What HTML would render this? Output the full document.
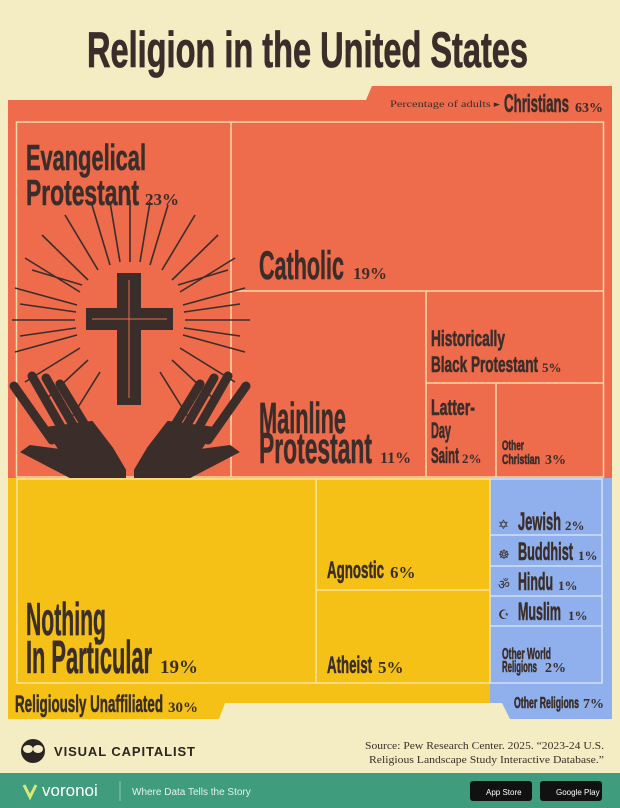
<!DOCTYPE html>
<html><head><meta charset="utf-8"><style>
html,body{margin:0;padding:0;background:#f4ecc2;}
svg{display:block}
</style></head><body>
<svg width="620" height="808" viewBox="0 0 620 808" xmlns="http://www.w3.org/2000/svg">
<rect width="620" height="808" fill="#f4ecc2"/>
<g font-family="Liberation Sans, sans-serif" font-weight="bold" fill="#3b2e2a" stroke="#3b2e2a" stroke-width="0.8">
<text x="87" y="67" font-size="50" textLength="441" lengthAdjust="spacingAndGlyphs">Religion in the United States</text>
</g>
<polygon points="8,100 366,100 372,86 612,86 612,478 8,478" fill="#ee6b4c"/>
<polygon points="8,478 490,478 490,703 225,703 219,719 8,719" fill="#f6c117"/>
<polygon points="490,478 612,478 612,719 510,719 502,703 490,703" fill="#8fb0ec"/>
<g fill="none" stroke="#f6d9a8" stroke-width="1.5">
<rect x="16.5" y="122" width="587" height="355"/>
<line x1="231" y1="122" x2="231" y2="477"/>
<line x1="231" y1="291" x2="603" y2="291"/>
<line x1="426" y1="291" x2="426" y2="477"/>
<line x1="426" y1="383" x2="603" y2="383"/>
<line x1="496" y1="383" x2="496" y2="477"/>
</g>
<g fill="none" stroke="#fbe3a0" stroke-width="1.5">
<rect x="17" y="479" width="473" height="204"/>
<line x1="316" y1="479" x2="316" y2="683"/>
<line x1="316" y1="590" x2="490" y2="590"/>
</g>
<g fill="none" stroke="#d3e0fa" stroke-width="1.5">
<polyline points="490,479 602,479 602,683 490,683"/>
<line x1="490" y1="535" x2="602" y2="535"/>
<line x1="490" y1="566" x2="602" y2="566"/>
<line x1="490" y1="596" x2="602" y2="596"/>
<line x1="490" y1="626" x2="602" y2="626"/>
</g>
<g stroke="#3b2e2a" stroke-width="1.6">
<line x1="185" y1="320" x2="250" y2="320"/><line x1="75" y1="320" x2="12" y2="320"/>
<line x1="183" y1="305" x2="245" y2="288"/><line x1="77" y1="305" x2="15" y2="288"/>
<line x1="180" y1="292" x2="235" y2="258"/><line x1="80" y1="292" x2="25" y2="258"/>
<line x1="172" y1="280" x2="218" y2="235"/><line x1="88" y1="280" x2="42" y2="235"/>
<line x1="162" y1="270" x2="195" y2="215"/><line x1="98" y1="270" x2="65" y2="215"/>
<line x1="150" y1="265" x2="168" y2="205"/><line x1="110" y1="265" x2="92" y2="205"/>
<line x1="130" y1="262" x2="130" y2="200"/>
<line x1="183" y1="335" x2="245" y2="352"/><line x1="77" y1="335" x2="15" y2="352"/>
<line x1="180" y1="348" x2="235" y2="382"/><line x1="80" y1="348" x2="25" y2="382"/>
<line x1="172" y1="360" x2="215" y2="400"/><line x1="88" y1="360" x2="45" y2="400"/>
<line x1="160" y1="372" x2="190" y2="420"/><line x1="100" y1="372" x2="70" y2="420"/>
<line x1="184" y1="312" x2="240" y2="304"/><line x1="76" y1="312" x2="20" y2="304"/>
<line x1="184" y1="328" x2="240" y2="336"/><line x1="76" y1="328" x2="20" y2="336"/>
<line x1="178" y1="285" x2="228" y2="270"/><line x1="82" y1="285" x2="32" y2="270"/>
<line x1="140" y1="262" x2="150" y2="202"/><line x1="120" y1="262" x2="110" y2="202"/>
</g>
<rect x="117" y="273" width="24" height="132" fill="#3b2e2a"/>
<rect x="86" y="308" width="87" height="22" fill="#3b2e2a"/>
<line x1="129" y1="280" x2="129" y2="398" stroke="#ee6b4c" stroke-width="1"/>
<line x1="92" y1="319" x2="167" y2="319" stroke="#ee6b4c" stroke-width="1"/>
<g fill="#3b2e2a" stroke="#3b2e2a" stroke-linecap="round">
<g stroke-width="9">
<line x1="14" y1="386" x2="52" y2="440"/><line x1="32" y1="376" x2="64" y2="432"/>
<line x1="46" y1="378" x2="76" y2="430"/><line x1="60" y1="384" x2="88" y2="430"/>
<line x1="246" y1="386" x2="208" y2="440"/><line x1="228" y1="376" x2="196" y2="432"/>
<line x1="214" y1="378" x2="184" y2="430"/><line x1="200" y1="384" x2="172" y2="430"/>
</g>
<polygon points="45,428 92,422 112,448 125,470 125,477 70,477 22,452 30,446 60,450" stroke-width="2"/>
<polygon points="215,428 168,422 148,448 135,470 135,477 190,477 238,452 230,446 200,450" stroke-width="2"/>
</g>
<g font-family="Liberation Sans, sans-serif" font-weight="bold" fill="#3b2e2a" stroke="#3b2e2a" stroke-width="0.6">
<text x="26" y="170" font-size="36" textLength="120" lengthAdjust="spacingAndGlyphs">Evangelical</text>
<text x="26" y="205" font-size="36" textLength="113" lengthAdjust="spacingAndGlyphs">Protestant</text>
<text x="259" y="279" font-size="40" textLength="85" lengthAdjust="spacingAndGlyphs">Catholic</text>
<text x="259" y="433" font-size="44" textLength="87" lengthAdjust="spacingAndGlyphs">Mainline</text>
<text x="259" y="463" font-size="44" textLength="113" lengthAdjust="spacingAndGlyphs">Protestant</text>
<text x="431" y="346" font-size="22" textLength="74" lengthAdjust="spacingAndGlyphs">Historically</text>
<text x="431" y="372" font-size="22" textLength="107" lengthAdjust="spacingAndGlyphs">Black Protestant</text>
<text x="431" y="415" font-size="22" textLength="44" lengthAdjust="spacingAndGlyphs">Latter-</text>
<text x="431" y="438" font-size="22" textLength="20" lengthAdjust="spacingAndGlyphs">Day</text>
<text x="431" y="463" font-size="22" textLength="28" lengthAdjust="spacingAndGlyphs">Saint</text>
<text x="502" y="450" font-size="14" textLength="22" lengthAdjust="spacingAndGlyphs">Other</text>
<text x="502" y="464" font-size="14" textLength="38" lengthAdjust="spacingAndGlyphs">Christian</text>
<text x="504" y="112" font-size="25" textLength="65" lengthAdjust="spacingAndGlyphs">Christians</text>
<text x="26" y="635" font-size="46" textLength="80" lengthAdjust="spacingAndGlyphs">Nothing</text>
<text x="26" y="673" font-size="46" textLength="126" lengthAdjust="spacingAndGlyphs">In Particular</text>
<text x="327" y="578" font-size="24" textLength="57" lengthAdjust="spacingAndGlyphs">Agnostic</text>
<text x="327" y="673" font-size="24" textLength="45" lengthAdjust="spacingAndGlyphs">Atheist</text>
<text x="518" y="530" font-size="25" textLength="43" lengthAdjust="spacingAndGlyphs">Jewish</text>
<text x="518" y="560" font-size="25" textLength="55" lengthAdjust="spacingAndGlyphs">Buddhist</text>
<text x="518" y="590" font-size="25" textLength="35" lengthAdjust="spacingAndGlyphs">Hindu</text>
<text x="518" y="620" font-size="25" textLength="43" lengthAdjust="spacingAndGlyphs">Muslim</text>
<text x="502" y="659" font-size="16" textLength="49" lengthAdjust="spacingAndGlyphs">Other World</text>
<text x="502" y="672" font-size="16" textLength="35" lengthAdjust="spacingAndGlyphs">Religions</text>
<text x="514" y="708" font-size="16" textLength="65" lengthAdjust="spacingAndGlyphs">Other Religions</text>
<text x="15" y="712" font-size="24" textLength="148" lengthAdjust="spacingAndGlyphs">Religiously Unaffiliated</text>
</g>
<g font-family="Liberation Serif, serif" font-weight="bold" fill="#3b2e2a">
<text x="145" y="205" font-size="17">23%</text>
<text x="353" y="279" font-size="17">19%</text>
<text x="380" y="463" font-size="16">11%</text>
<text x="542" y="372" font-size="13">5%</text>
<text x="462" y="463" font-size="13">2%</text>
<text x="545" y="464" font-size="14">3%</text>
<text x="575" y="112" font-size="14">63%</text>
<text x="390" y="107" font-size="9" font-weight="normal" textLength="110" lengthAdjust="spacingAndGlyphs">Percentage of adults ▸</text>
<text x="160" y="673" font-size="19">19%</text>
<text x="390" y="578" font-size="17">6%</text>
<text x="378" y="673" font-size="17">5%</text>
<text x="565" y="530" font-size="13">2%</text>
<text x="578" y="560" font-size="13">1%</text>
<text x="558" y="590" font-size="13">1%</text>
<text x="568" y="620" font-size="13">1%</text>
<text x="545" y="672" font-size="14">2%</text>
<text x="583" y="708" font-size="14">7%</text>
<text x="168" y="712" font-size="15">30%</text>
</g>
<g font-family="DejaVu Sans, sans-serif" fill="#3b2e2a" font-size="13">
<text x="498" y="529">✡</text><text x="498" y="559">☸</text><text x="498" y="589">ॐ</text><text x="498" y="619">☪</text>
</g>
<circle cx="33" cy="751" r="12" fill="#2a2522"/>
<ellipse cx="28" cy="749" rx="5" ry="4" fill="#f4ecc2"/><ellipse cx="38" cy="749" rx="5" ry="4" fill="#f4ecc2"/>
<text x="54" y="756" font-family="Liberation Sans, sans-serif" font-weight="bold" font-size="13" fill="#2a2522" textLength="141" lengthAdjust="spacing">VISUAL CAPITALIST</text>
<g font-family="Liberation Serif, serif" font-size="11" fill="#3b2e2a" text-anchor="end">
<text x="604" y="749" textLength="239" lengthAdjust="spacingAndGlyphs">Source: Pew Research Center. 2025. “2023-24 U.S.</text>
<text x="604" y="763" textLength="235" lengthAdjust="spacingAndGlyphs">Religious Landscape Study Interactive Database.”</text>
</g>
<rect x="0" y="773" width="620" height="35" fill="#3f9c7d"/>
<path d="M24 785 L30 797 L36 785" fill="none" stroke="#d8e87a" stroke-width="3"/>
<text x="42" y="796" font-family="Liberation Sans, sans-serif" font-size="17" fill="#ffffff">voronoi</text>
<line x1="120" y1="781" x2="120" y2="801" stroke="#8cc7b0" stroke-width="1"/>
<text x="132" y="795" font-family="Liberation Sans, sans-serif" font-size="10" fill="#e4f2ea">Where Data Tells the Story</text>
<rect x="470" y="781" width="62" height="20" rx="3" fill="#111"/>
<rect x="540" y="781" width="62" height="20" rx="3" fill="#111"/>
<text x="486" y="795" font-family="Liberation Sans, sans-serif" font-size="8" fill="#fff">App Store</text>
<text x="556" y="795" font-family="Liberation Sans, sans-serif" font-size="8" fill="#fff">Google Play</text>
</svg>
</body></html>
